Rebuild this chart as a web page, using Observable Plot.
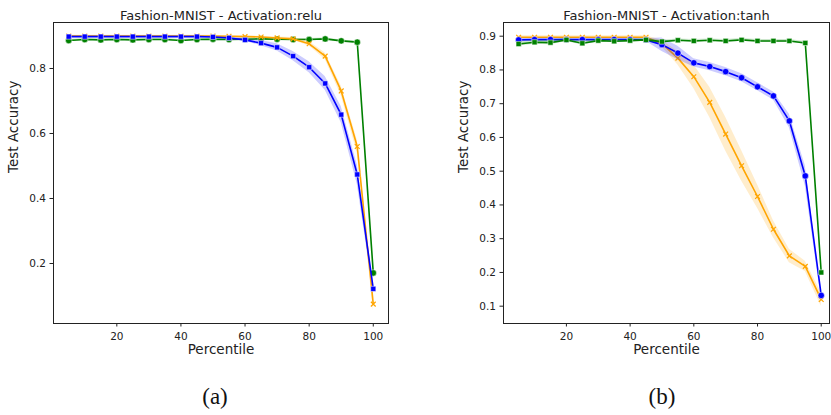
<!DOCTYPE html>
<html><head><meta charset="utf-8">
<script src="https://cdn.jsdelivr.net/npm/d3@7"></script>
<script src="https://cdn.jsdelivr.net/npm/@observablehq/plot@0.6"></script>
<style>
body{margin:0;width:831px;height:415px;overflow:hidden;background:#fff;font-family:"DejaVu Sans";}
#wrap{position:relative;width:831px;height:415px;overflow:hidden;}
.panel{position:absolute;top:0;}
.cap{position:absolute;top:384px;font-family:"Liberation Serif";font-size:23px;transform:translateX(-50%);color:#111;}
</style></head><body><div id="wrap"></div>
<script>
// Percentile positions
const percentiles = [5,10,15,20,25,30,35,40,45,50,55,60,65,70,75,80,85,90,95,100];
const xTicks = [20,40,60,80,100];

// Panel (a): relu
const reluTitle = "Fashion-MNIST - Activation:relu";
const reluBlue   = [0.898,0.898,0.898,0.898,0.898,0.898,0.898,0.898,0.898,0.897,0.894,0.888,0.878,0.865,0.838,0.804,0.754,0.658,0.474,0.122];
const reluBlueSd = [0.002,0.002,0.002,0.002,0.002,0.002,0.002,0.002,0.002,0.002,0.003,0.004,0.008,0.011,0.014,0.017,0.021,0.025,0.03,0.01];
const reluOrange   = [0.900,0.900,0.900,0.900,0.900,0.900,0.900,0.900,0.900,0.900,0.899,0.898,0.897,0.894,0.891,0.876,0.838,0.731,0.560,0.075];
const reluOrangeSd = [0.002,0.002,0.002,0.002,0.002,0.002,0.002,0.002,0.002,0.002,0.002,0.002,0.002,0.003,0.004,0.007,0.010,0.015,0.020,0.020];
const reluGreen   = [0.886,0.889,0.888,0.889,0.888,0.889,0.889,0.886,0.889,0.890,0.889,0.890,0.891,0.890,0.889,0.889,0.891,0.885,0.881,0.171];
const reluGreenSd = [0.003,0.003,0.003,0.003,0.003,0.003,0.003,0.003,0.003,0.003,0.003,0.003,0.003,0.003,0.003,0.003,0.003,0.003,0.003,0.005];
const reluYTicks = [0.2,0.4,0.6,0.8];

// Panel (b): tanh
const tanhTitle = "Fashion-MNIST - Activation:tanh";
const tanhBlue   = [0.889,0.890,0.890,0.890,0.890,0.890,0.890,0.890,0.889,0.875,0.850,0.821,0.810,0.795,0.777,0.750,0.723,0.649,0.486,0.132];
const tanhBlueSd = [0.004,0.004,0.004,0.004,0.004,0.004,0.004,0.004,0.004,0.020,0.020,0.012,0.012,0.012,0.012,0.012,0.012,0.020,0.030,0.010];
const tanhOrange   = [0.897,0.897,0.897,0.897,0.897,0.897,0.897,0.897,0.897,0.878,0.835,0.780,0.704,0.610,0.516,0.425,0.328,0.249,0.218,0.120];
const tanhOrangeSd = [0.004,0.004,0.004,0.004,0.004,0.004,0.004,0.004,0.004,0.010,0.020,0.035,0.045,0.050,0.045,0.035,0.025,0.020,0.015,0.020];
const tanhGreen   = [0.877,0.882,0.881,0.889,0.879,0.887,0.885,0.887,0.889,0.884,0.888,0.886,0.888,0.886,0.889,0.886,0.886,0.886,0.880,0.200];
const tanhGreenSd = [0.006,0.006,0.006,0.005,0.005,0.004,0.004,0.004,0.004,0.004,0.004,0.004,0.004,0.004,0.004,0.004,0.004,0.004,0.004,0.005];
const tanhYTicks = [0.1,0.2,0.3,0.4,0.5,0.6,0.7,0.8,0.9];

const BLUE = "#0000ff", ORANGE = "#ffa500", GREEN = "#008000";

function rows(vals, sds){ return percentiles.map((p,i)=>({x:p, y:vals[i], lo:vals[i]-sds[i], hi:vals[i]+sds[i]})); }

function seriesMarks(data, color, symbol){
  const m = [
    Plot.areaY(data,{x:"x", y1:"lo", y2:"hi", fill:color, fillOpacity:0.2}),
    Plot.lineY(data,{x:"x", y:"y", stroke:color, strokeWidth:1.6})
  ];
  if(symbol === "times"){
    m.push(Plot.dot(data,{x:"x", y:"y", symbol:"times", stroke:color, strokeWidth:1.2, r:2.3}));
  } else {
    m.push(Plot.dot(data,{x:"x", y:"y", symbol, fill:color, stroke:"white", strokeWidth:0.5, r: symbol==="circle"?3.2:2.9}));
  }
  return m;
}

function panel({title, xDomain, yDomain, yTicks, ml, mr, series}){
  return Plot.plot({
    width: 415, height: 365,
    marginLeft: ml, marginRight: mr, marginTop: 22, marginBottom: 42,
    style:{fontFamily:"DejaVu Sans", fontSize:"10.5px", color:"#222", background:"transparent"},
    x:{domain:xDomain, ticks:xTicks, tickSize:3.5, tickPadding:5.5, label:null},
    y:{domain:yDomain, ticks:yTicks, tickFormat:d3.format(".1f"), tickSize:3.5, tickPadding:4, label:null},
    marks:[
      ...series.flatMap(s=>seriesMarks(s.data, s.color, s.symbol)),
      Plot.frame({stroke:"#222", strokeWidth:1}),
      Plot.text([title],{frameAnchor:"top", dy:-12, text:d=>d, fontSize:13, fill:"#222"}),
      Plot.text(["Percentile"],{frameAnchor:"bottom", dy:30, text:d=>d, fontSize:13.5, fill:"#222"}),
      Plot.text(["Test Accuracy"],{frameAnchor:"left", dx:-40, rotate:-90, text:d=>d, fontSize:13.5, fill:"#222"})
    ]
  });
}

const wrap = document.getElementById("wrap");

const a = panel({title:reluTitle, xDomain:[0.25,104.75], yDomain:[0.0154,0.9415], yTicks:reluYTicks, ml:53, mr:27, series:[
  {data:rows(reluGreen,reluGreenSd), color:GREEN, symbol:"circle"},
  {data:rows(reluOrange,reluOrangeSd), color:ORANGE, symbol:"times"},
  {data:rows(reluBlue,reluBlueSd), color:BLUE, symbol:"square"}
]});
a.classList.add("panel"); a.style.left = "0px";
wrap.appendChild(a);

const b = panel({title:tanhTitle, xDomain:[0.25,102.6], yDomain:[0.0487,0.9406], yTicks:tanhYTicks, ml:55, mr:34, series:[
  {data:rows(tanhOrange,tanhOrangeSd), color:ORANGE, symbol:"times"},
  {data:rows(tanhBlue,tanhBlueSd), color:BLUE, symbol:"circle"},
  {data:rows(tanhGreen,tanhGreenSd), color:GREEN, symbol:"square"}
]});
b.classList.add("panel"); b.style.left = "448px";
wrap.appendChild(b);

for (const [t,x] of [["(a)",215],["(b)",662]]){
  const d = document.createElement("div");
  d.className = "cap"; d.textContent = t; d.style.left = x+"px";
  wrap.appendChild(d);
}
</script>
</body></html>
